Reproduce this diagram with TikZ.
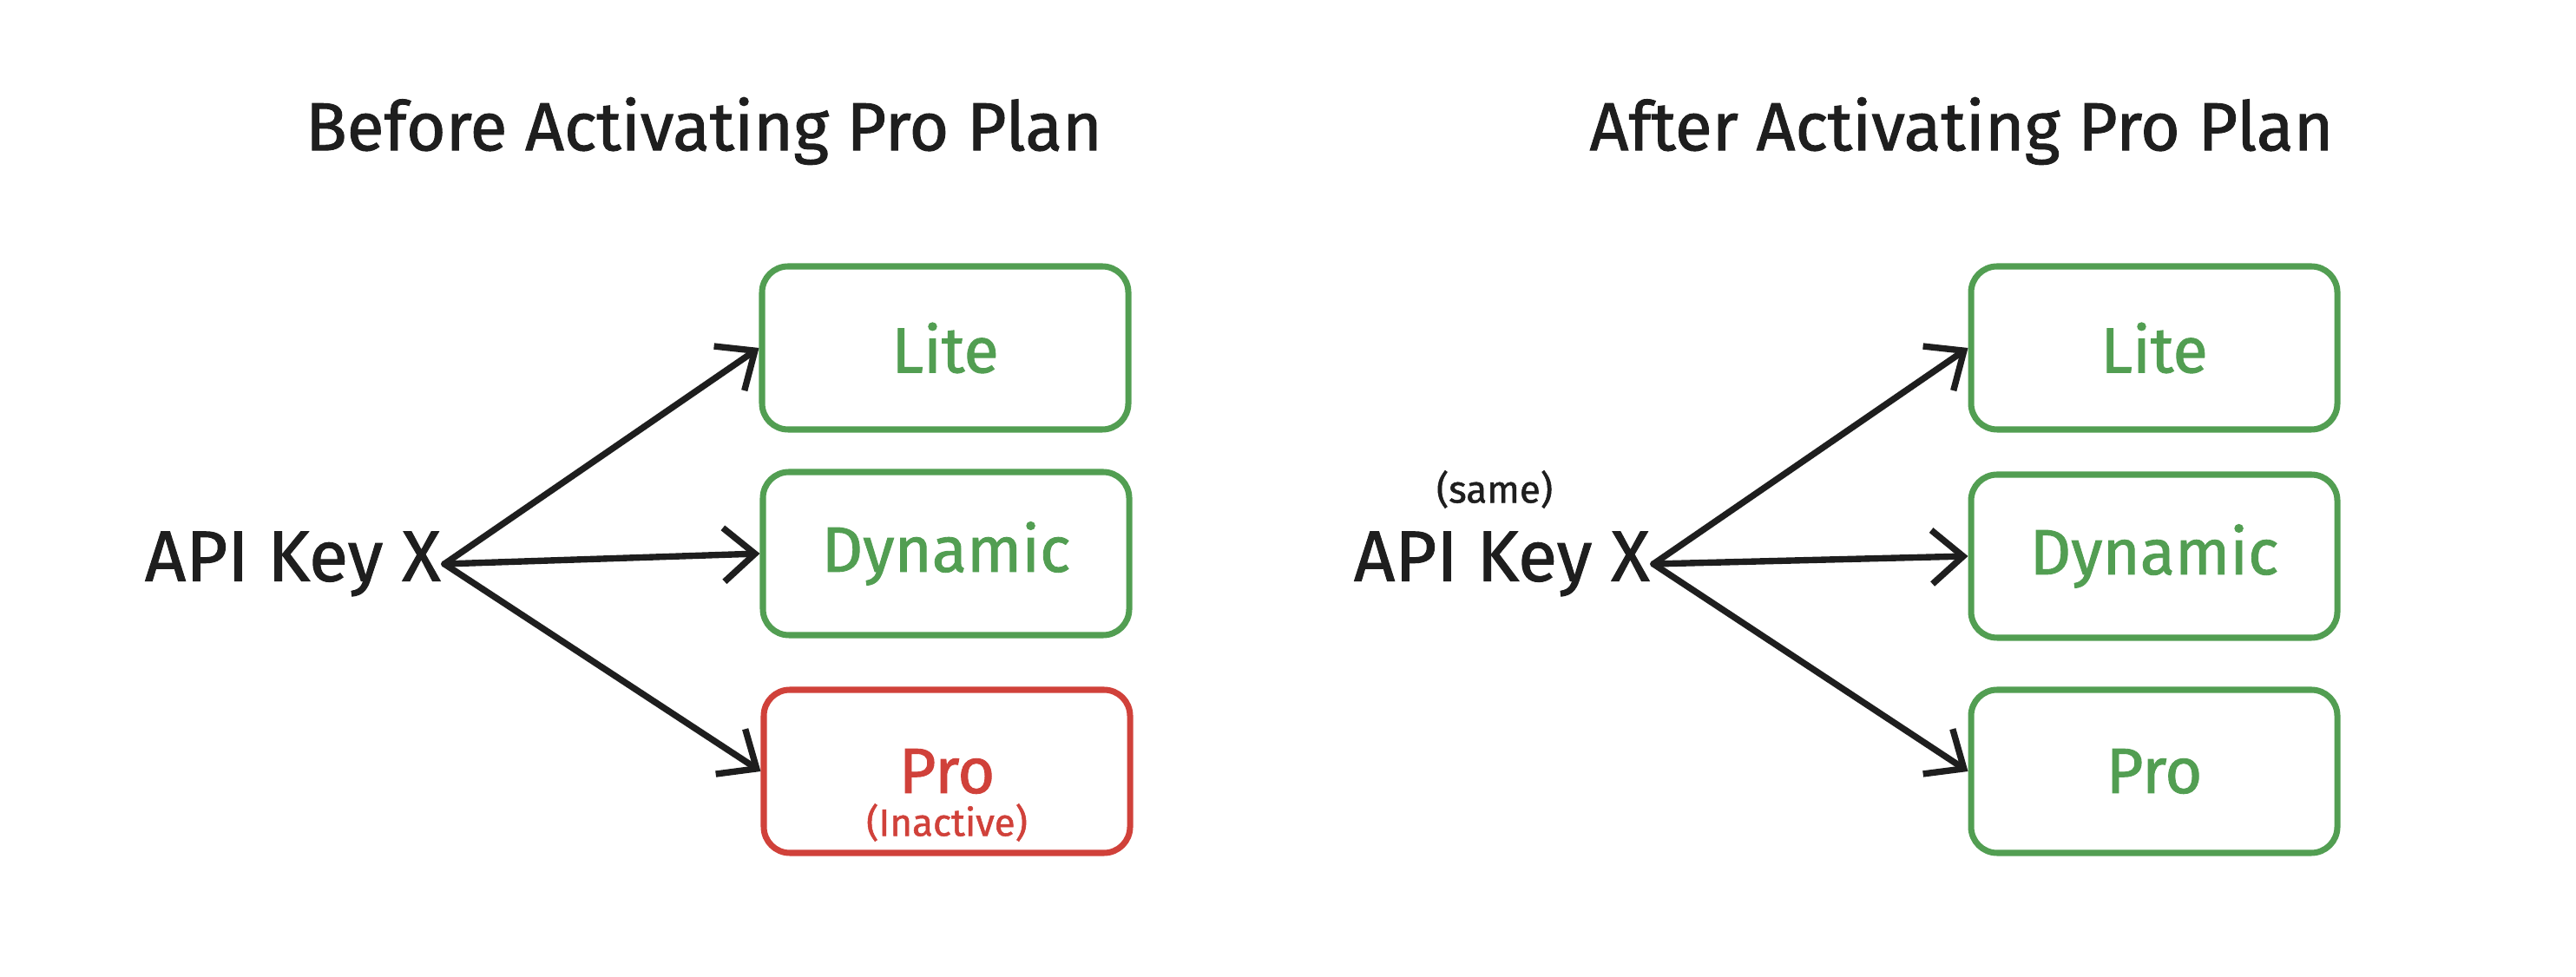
\documentclass[tikz,border=0pt]{standalone}
\usepackage{fontspec}
\setmainfont{Fira Sans}[FakeBold=1.2]
\usetikzlibrary{arrows.meta}
\definecolor{ink}{RGB}{30,30,30}
\definecolor{okgreen}{RGB}{82,158,82}
\definecolor{badred}{RGB}{208,65,58}
\tikzset{
  titletext/.style={font=\fontsize{22.3}{26}\selectfont, text=ink},
  keytext/.style={font=\fontsize{23.5}{28}\selectfont, text=ink},
  smalltext/.style={font=\fontsize{12.5}{14}\selectfont},
  planbox/.style={draw, line width=2pt, rounded corners=0.3cm, minimum width=4.22cm, minimum height=1.88cm, font=\fontsize{21}{25}\selectfont},
  okbox/.style={planbox, draw=okgreen, text=okgreen},
  badbox/.style={planbox, draw=badred, text=badred},
  conn/.style={draw=ink, line width=2.1pt, line cap=round, line join=round, -{Straight Barb[length=0.36cm, width=0.62cm, line width=2.1pt]}}
}
\begin{document}
\begin{tikzpicture}
\useasboundingbox (0,0) rectangle (29.68,11.26);
% left panel
\node[titletext] (title1) at (8.11,9.75) {Before Activating Pro Plan};
\node[keytext, anchor=east, inner sep=1pt] (key1) at (5.12,4.76) {API Key X};
\node[okbox] (lite1) at (10.89,7.25) {Lite};
\node[okbox] (dyn1) at (10.90,4.88) {Dynamic};
\node[badbox] (pro1) at (10.91,2.37) {Pro};
\node[smalltext, text=badred] (inact) at (10.91,1.78) {(Inactive)};
\draw[conn] (key1.east) -- (lite1.west);
\draw[conn] (key1.east) -- (dyn1.west);
\draw[conn] (key1.east) -- (pro1.west);
% right panel
\node[titletext] (title2) at (22.60,9.75) {After Activating Pro Plan};
\node[keytext, anchor=east, inner sep=1pt] (key2) at (19.05,4.76) {API Key X};
\node[smalltext, text=ink] (same) at (17.22,5.62) {(same)};
\node[okbox] (lite2) at (24.82,7.25) {Lite};
\node[okbox] (dyn2) at (24.82,4.85) {Dynamic};
\node[okbox] (pro2) at (24.82,2.37) {Pro};
\draw[conn] (key2.east) -- (lite2.west);
\draw[conn] (key2.east) -- (dyn2.west);
\draw[conn] (key2.east) -- (pro2.west);
\end{tikzpicture}
\end{document}
